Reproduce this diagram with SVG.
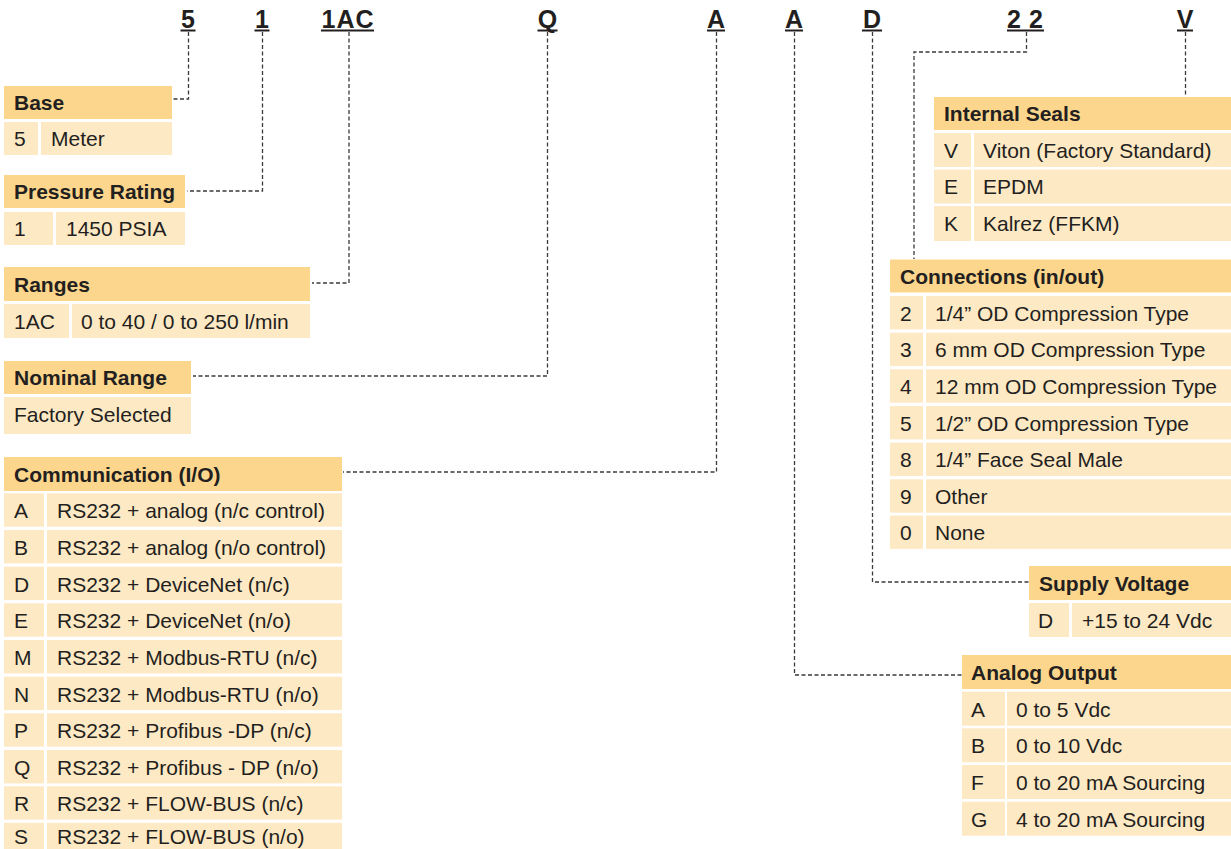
<svg xmlns="http://www.w3.org/2000/svg" width="1231" height="849" viewBox="0 0 1231 849">
<style>
.hd{fill:#FDD68D}
.rw{fill:#FEE9C5}
text{font-family:"Liberation Sans",Arial,sans-serif;font-size:21px;fill:#231F20}
.b{font-weight:bold}
.code{font-size:25px;font-weight:bold;text-anchor:middle}
.ul{stroke:#231F20;stroke-width:2}
.con{fill:none;stroke:#3a3a3a;stroke-width:1.3;stroke-dasharray:4 2.5}
</style>
<rect width="1231" height="849" fill="#ffffff"/>
<g id="codes">
<text class="code" x="188" y="28">5</text><line class="ul" x1="180.5" y1="30.5" x2="195.5" y2="30.5"/>
<text class="code" x="262" y="28">1</text><line class="ul" x1="254.5" y1="30.5" x2="269.5" y2="30.5"/>
<text class="code" x="348" y="28" letter-spacing="1">1AC</text><line class="ul" x1="321" y1="30.5" x2="374" y2="30.5"/>
<text class="code" x="547.5" y="28">Q</text><line class="ul" x1="537.5" y1="30.5" x2="557.5" y2="30.5"/>
<text class="code" x="716" y="28">A</text><line class="ul" x1="707" y1="30.5" x2="725" y2="30.5"/>
<text class="code" x="794" y="28">A</text><line class="ul" x1="785" y1="30.5" x2="803" y2="30.5"/>
<text class="code" x="872" y="28">D</text><line class="ul" x1="862" y1="30.5" x2="882" y2="30.5"/>
<text class="code" x="1029" y="28" letter-spacing="8">22</text><line class="ul" x1="1007" y1="30.5" x2="1044" y2="30.5"/>
<text class="code" x="1185" y="28">V</text><line class="ul" x1="1177" y1="30.5" x2="1193" y2="30.5"/>
</g>
<g id="connectors">
<path class="con" d="M188.5 32V99H172"/>
<path class="con" d="M262.5 32V191H187"/>
<path class="con" d="M349 32V283H312"/>
<path class="con" d="M547.5 32V376H193"/>
<path class="con" d="M716.5 32V472H343"/>
<path class="con" d="M794.5 32V675H962"/>
<path class="con" d="M872.5 32V582H1029"/>
<path class="con" d="M1026.5 32V52H914V259"/>
<path class="con" d="M1185.5 32V97"/>
</g>
<g id="base">
<rect class="hd" x="4" y="86" width="168" height="33"/><text class="b" x="14" y="110">Base</text>
<rect class="rw" x="4" y="122" width="34" height="33"/><rect class="rw" x="41" y="122" width="131" height="33"/>
<text x="14" y="146">5</text><text x="51" y="146">Meter</text>
</g>
<g id="pressure-rating">
<rect class="hd" x="4" y="175" width="181" height="33"/><text class="b" x="14" y="199">Pressure Rating</text>
<rect class="rw" x="4" y="212" width="49" height="33"/><rect class="rw" x="56" y="212" width="129" height="33"/>
<text x="14" y="236">1</text><text x="66" y="236">1450 PSIA</text>
</g>
<g id="ranges">
<rect class="hd" x="4" y="267" width="306" height="34"/><text class="b" x="14" y="291.5">Ranges</text>
<rect class="rw" x="4" y="304" width="65" height="34"/><rect class="rw" x="72" y="304" width="238" height="34"/>
<text x="14" y="328.5">1AC</text><text x="81" y="328.5">0 to 40 / 0 to 250 l/min</text>
</g>
<g id="nominal-range">
<rect class="hd" x="4" y="361" width="187" height="33"/><text class="b" x="14" y="385">Nominal Range</text>
<rect class="rw" x="4" y="397" width="187" height="37"/><text x="14" y="422">Factory Selected</text>
</g>
<g id="communication">
<rect class="hd" x="4" y="457" width="338" height="34"/><text class="b" x="14" y="481.5">Communication (I/O)</text>
<g>
<rect class="rw" x="4" y="493.3" width="40" height="33.4"/><rect class="rw" x="47" y="493.3" width="295" height="33.4"/>
<text x="14" y="518.1">A</text><text x="57" y="518.1">RS232 + analog (n/c control)</text>
<rect class="rw" x="4" y="530" width="40" height="33.4"/><rect class="rw" x="47" y="530" width="295" height="33.4"/>
<text x="14" y="554.8">B</text><text x="57" y="554.8">RS232 + analog (n/o control)</text>
<rect class="rw" x="4" y="566.7" width="40" height="33.4"/><rect class="rw" x="47" y="566.7" width="295" height="33.4"/>
<text x="14" y="591.5">D</text><text x="57" y="591.5">RS232 + DeviceNet (n/c)</text>
<rect class="rw" x="4" y="603.3" width="40" height="33.4"/><rect class="rw" x="47" y="603.3" width="295" height="33.4"/>
<text x="14" y="628.1">E</text><text x="57" y="628.1">RS232 + DeviceNet (n/o)</text>
<rect class="rw" x="4" y="640" width="40" height="33.4"/><rect class="rw" x="47" y="640" width="295" height="33.4"/>
<text x="14" y="664.8">M</text><text x="57" y="664.8">RS232 + Modbus-RTU (n/c)</text>
<rect class="rw" x="4" y="676.7" width="40" height="33.4"/><rect class="rw" x="47" y="676.7" width="295" height="33.4"/>
<text x="14" y="701.5">N</text><text x="57" y="701.5">RS232 + Modbus-RTU (n/o)</text>
<rect class="rw" x="4" y="713.3" width="40" height="33.4"/><rect class="rw" x="47" y="713.3" width="295" height="33.4"/>
<text x="14" y="738.1">P</text><text x="57" y="738.1">RS232 + Profibus -DP (n/c)</text>
<rect class="rw" x="4" y="750" width="40" height="33.4"/><rect class="rw" x="47" y="750" width="295" height="33.4"/>
<text x="14" y="774.8">Q</text><text x="57" y="774.8">RS232 + Profibus - DP (n/o)</text>
<rect class="rw" x="4" y="786.3" width="40" height="33.4"/><rect class="rw" x="47" y="786.3" width="295" height="33.4"/>
<text x="14" y="811.1">R</text><text x="57" y="811.1">RS232 + FLOW-BUS (n/c)</text>
<rect class="rw" x="4" y="822.8" width="40" height="26.2"/><rect class="rw" x="47" y="822.8" width="295" height="26.2"/>
<text x="14" y="844.3">S</text><text x="57" y="844.3">RS232 + FLOW-BUS (n/o)</text>
</g>
</g>
<g id="internal-seals">
<rect class="hd" x="934" y="97" width="297" height="33"/><text class="b" x="944" y="121">Internal Seals</text>
<rect class="rw" x="934" y="133" width="37" height="34"/><rect class="rw" x="974" y="133" width="257" height="34"/>
<text x="944" y="157.8">V</text><text x="983" y="157.8">Viton (Factory Standard)</text>
<rect class="rw" x="934" y="169.5" width="37" height="34"/><rect class="rw" x="974" y="169.5" width="257" height="34"/>
<text x="944" y="194.3">E</text><text x="983" y="194.3">EPDM</text>
<rect class="rw" x="934" y="206" width="37" height="35"/><rect class="rw" x="974" y="206" width="257" height="35"/>
<text x="944" y="231">K</text><text x="983" y="231">Kalrez (FFKM)</text>
</g>
<g id="connections">
<rect class="hd" x="890" y="259.5" width="341" height="33"/><text class="b" x="900" y="283.5">Connections (in/out)</text>
<rect class="rw" x="890" y="296" width="33" height="33.4"/><rect class="rw" x="926" y="296" width="305" height="33.4"/>
<text x="900" y="320.6">2</text><text x="935" y="320.6">1/4” OD Compression Type</text>
<rect class="rw" x="890" y="332.7" width="33" height="33.4"/><rect class="rw" x="926" y="332.7" width="305" height="33.4"/>
<text x="900" y="357.3">3</text><text x="935" y="357.3">6 mm OD Compression Type</text>
<rect class="rw" x="890" y="369.3" width="33" height="33.4"/><rect class="rw" x="926" y="369.3" width="305" height="33.4"/>
<text x="900" y="393.9">4</text><text x="935" y="393.9">12 mm OD Compression Type</text>
<rect class="rw" x="890" y="406" width="33" height="33.4"/><rect class="rw" x="926" y="406" width="305" height="33.4"/>
<text x="900" y="430.6">5</text><text x="935" y="430.6">1/2” OD Compression Type</text>
<rect class="rw" x="890" y="442.7" width="33" height="33.4"/><rect class="rw" x="926" y="442.7" width="305" height="33.4"/>
<text x="900" y="467.3">8</text><text x="935" y="467.3">1/4” Face Seal Male</text>
<rect class="rw" x="890" y="479.3" width="33" height="33.4"/><rect class="rw" x="926" y="479.3" width="305" height="33.4"/>
<text x="900" y="503.9">9</text><text x="935" y="503.9">Other</text>
<rect class="rw" x="890" y="515.5" width="33" height="33.4"/><rect class="rw" x="926" y="515.5" width="305" height="33.4"/>
<text x="900" y="540.1">0</text><text x="935" y="540.1">None</text>
</g>
<g id="supply-voltage">
<rect class="hd" x="1029" y="566" width="202" height="34"/><text class="b" x="1039" y="590.5">Supply Voltage</text>
<rect class="rw" x="1029" y="603" width="40" height="34"/><rect class="rw" x="1072" y="603" width="159" height="34"/>
<text x="1038" y="627.5">D</text><text x="1082" y="627.5">+15 to 24 Vdc</text>
</g>
<g id="analog-output">
<rect class="hd" x="962" y="655" width="269" height="34"/><text class="b" x="971" y="679.5">Analog Output</text>
<rect class="rw" x="962" y="691.7" width="43" height="34"/><rect class="rw" x="1007" y="691.7" width="224" height="34"/>
<text x="971" y="716.5">A</text><text x="1016" y="716.5">0 to 5 Vdc</text>
<rect class="rw" x="962" y="728.3" width="43" height="34"/><rect class="rw" x="1007" y="728.3" width="224" height="34"/>
<text x="971" y="753.1">B</text><text x="1016" y="753.1">0 to 10 Vdc</text>
<rect class="rw" x="962" y="765" width="43" height="34"/><rect class="rw" x="1007" y="765" width="224" height="34"/>
<text x="971" y="789.8">F</text><text x="1016" y="789.8">0 to 20 mA Sourcing</text>
<rect class="rw" x="962" y="801.7" width="43" height="34"/><rect class="rw" x="1007" y="801.7" width="224" height="34"/>
<text x="971" y="826.5">G</text><text x="1016" y="826.5">4 to 20 mA Sourcing</text>
</g>
</svg>
